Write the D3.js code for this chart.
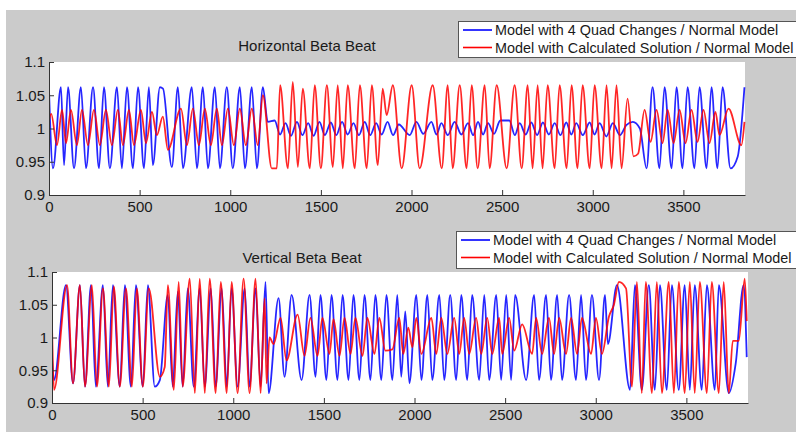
<!DOCTYPE html>
<html>
<head>
<meta charset="utf-8">
<script src="https://cdn.jsdelivr.net/npm/d3@7/dist/d3.min.js"></script>
<style>
  html, body { margin: 0; padding: 0; background: #ffffff; }
  svg { display: block; }
  text { font-family: Arial, "Liberation Sans", Helvetica, sans-serif; fill: #1a1a1a; }
</style>
</head>
<body>
<svg id="chart" width="796" height="435"></svg>
<script>
// ---------------- DATA ----------------
const xTicks = [0, 500, 1000, 1500, 2000, 2500, 3000, 3500];
const yTicks = [0.9, 0.95, 1, 1.05, 1.1];
const yTickLabels = ["0.9", "0.95", "1", "1.05", "1.1"];
const titles = ["Horizontal Beta Beat", "Vertical Beta Beat"];
const legendLabels = ["Model with 4 Quad Changes / Normal Model",
                      "Model with Calculated Solution / Normal Model"];
const seriesColors = ["#0000ff", "#ff0000"];

// Horizontal: blue = 4 quad changes, red = calculated solution  [position, ratio]
const horizontalBlue = [
  [0,1.058],[22,0.940],[66,1.062],[83,0.945],[105,1.062],[138,0.940],[176,1.062],[204,0.940],
  [243,1.062],[276,0.940],[303,1.062],[336,0.940],[375,1.062],[402,0.940],[430,1.062],[463,0.940],
  [491,1.062],[524,0.940],[551,1.062],[573,0.945],[612,1.062],[629,1.060],[678,0.942],[711,1.062],
  [739,0.940],[788,1.062],[816,0.940],[849,1.062],[877,0.940],[915,1.062],[943,0.940],[981,1.062],
  [1014,0.940],[1053,1.062],[1081,0.940],[1119,1.062],[1147,0.940],[1180,1.062],[1207,1.010],
  [1245,1.012],[1275,0.991],[1305,1.008],[1335,0.989],[1368,1.010],[1398,0.990],[1430,1.008],
  [1460,0.989],[1492,1.010],[1522,0.990],[1555,1.009],[1585,0.990],[1617,1.010],[1648,0.991],
  [1680,1.008],[1710,0.990],[1742,1.010],[1772,0.990],[1805,1.008],[1835,0.991],[1868,1.010],
  [1898,0.990],[1930,1.006],[1990,0.990],[2027,1.010],[2065,0.992],[2110,1.010],[2138,0.991],
  [2165,1.008],[2200,0.990],[2238,1.010],[2275,0.991],[2312,1.008],[2340,0.990],[2367,1.010],
  [2395,0.991],[2422,1.008],[2455,0.992],[2490,1.012],[2540,1.012],[2570,0.990],[2597,1.008],
  [2630,0.991],[2661,1.009],[2693,0.990],[2725,1.009],[2758,0.991],[2790,1.008],[2822,0.990],
  [2854,1.009],[2882,0.991],[2909,1.008],[2945,0.990],[2983,1.009],[3010,0.991],[3038,1.008],
  [3075,0.988],[3111,1.008],[3150,0.990],[3185,1.005],[3221,1.010],[3260,1.000],[3297,0.940],
  [3330,1.062],[3368,0.940],[3396,1.062],[3435,0.940],[3462,1.062],[3495,0.940],[3523,1.062],
  [3561,0.940],[3589,1.062],[3628,0.940],[3655,1.062],[3688,0.940],[3716,1.062],[3760,0.940],
  [3800,0.958],[3837,1.062]
];
const horizontalRed = [
  [0,1.012],[12,1.022],[44,0.975],[72,1.028],[94,0.978],[121,1.028],[154,0.975],[182,1.028],
  [215,0.975],[248,1.028],[281,0.975],[314,1.028],[347,0.975],[380,1.028],[408,0.975],[441,1.028],
  [469,0.975],[507,1.028],[535,0.978],[568,1.025],[595,0.990],[628,1.018],[656,0.968],[728,1.030],
  [761,0.975],[794,1.030],[827,0.975],[860,1.030],[893,0.975],[926,1.030],[954,0.975],[987,1.030],
  [1020,0.975],[1053,1.030],[1086,0.975],[1119,1.030],[1152,0.975],[1180,1.050],[1229,0.940],
  [1257,0.940],[1275,1.065],[1318,0.940],[1345,1.070],[1373,0.942],[1400,1.060],[1439,0.940],
  [1466,1.065],[1500,0.940],[1533,1.065],[1566,0.942],[1593,1.065],[1621,0.940],[1648,1.065],
  [1687,0.940],[1715,1.065],[1753,0.940],[1781,1.065],[1814,0.945],[1841,1.060],[1863,1.020],
  [1897,1.065],[1946,0.940],[2001,1.065],[2045,0.940],[2117,1.065],[2167,0.940],[2200,1.065],
  [2227,0.940],[2266,1.065],[2304,0.940],[2332,1.065],[2365,0.940],[2404,1.065],[2431,0.940],
  [2470,1.065],[2525,0.940],[2569,1.065],[2608,0.940],[2641,1.065],[2668,0.940],[2696,1.065],
  [2723,0.940],[2751,1.065],[2790,0.940],[2817,1.065],[2856,0.940],[2883,1.065],[2916,0.940],
  [2944,1.065],[2983,0.940],[3010,1.065],[3049,0.940],[3076,1.065],[3104,0.940],[3131,1.065],
  [3159,0.940],[3192,1.045],[3225,0.958],[3250,0.962],[3286,1.028],[3319,0.980],[3352,1.028],
  [3385,0.978],[3413,1.028],[3446,0.978],[3479,1.028],[3512,0.978],[3545,1.028],[3578,0.980],
  [3611,1.028],[3644,0.978],[3677,1.025],[3699,0.990],[3749,1.030],[3820,0.975],[3837,1.010]
];

// Vertical: blue = 4 quad changes, red = calculated solution  [position, ratio]
const verticalBlue = [
  [0,0.970],[11,0.935],[77,1.080],[116,0.930],[154,1.080],[182,0.925],[215,1.080],[242,0.925],
  [281,1.080],[308,0.925],[336,1.080],[374,0.925],[402,1.080],[435,0.925],[463,1.080],[501,0.925],
  [529,1.080],[567,0.925],[595,0.935],[639,1.065],[666,0.925],[694,1.070],[721,0.925],[749,1.075],
  [782,0.925],[815,1.075],[843,0.925],[876,1.075],[903,0.925],[936,1.075],[964,0.925],[991,1.075],
  [1024,0.925],[1063,1.075],[1090,0.925],[1123,1.075],[1151,0.925],[1178,1.085],[1195,0.915],
  [1250,1.060],[1283,0.940],[1322,1.065],[1377,0.935],[1421,1.065],[1454,0.940],[1481,1.065],
  [1514,0.935],[1542,1.065],[1575,0.935],[1603,1.065],[1636,0.935],[1663,1.065],[1696,0.935],
  [1724,1.065],[1757,0.935],[1784,1.065],[1817,0.935],[1845,1.065],[1878,0.935],[1905,1.065],
  [1927,0.940],[1949,1.040],[1972,0.930],[2010,1.065],[2038,0.935],[2071,1.065],[2098,0.935],
  [2137,1.065],[2164,0.935],[2197,1.065],[2230,0.935],[2258,1.065],[2291,0.935],[2318,1.065],
  [2357,0.935],[2385,1.065],[2412,0.935],[2451,1.065],[2478,0.935],[2506,1.065],[2533,0.935],
  [2555,1.065],[2616,0.935],[2660,1.065],[2687,0.935],[2726,1.065],[2753,0.935],[2787,1.065],
  [2814,0.935],[2853,1.065],[2891,0.935],[2919,1.065],[2946,0.935],[2979,1.065],[3018,0.935],
  [3051,1.065],[3067,0.990],[3117,1.080],[3189,0.920],[3216,1.080],[3254,0.920],[3293,1.080],
  [3326,0.920],[3354,1.080],[3392,0.920],[3420,1.080],[3458,0.920],[3491,1.080],[3519,0.920],
  [3546,1.080],[3585,0.920],[3613,1.080],[3657,0.920],[3679,1.080],[3734,0.915],[3772,0.960],
  [3816,1.080],[3833,0.970]
];
const verticalRed = [
  [0,1.020],[11,0.920],[83,1.080],[116,0.930],[154,1.080],[182,0.925],[220,1.080],[248,0.925],
  [281,1.075],[314,0.925],[341,1.078],[374,0.925],[408,1.075],[441,0.925],[468,1.075],[501,0.925],
  [534,1.075],[595,0.940],[622,0.955],[639,1.080],[672,0.920],[699,1.085],[721,0.925],[760,1.090],
  [788,0.915],[815,1.090],[843,0.915],[870,1.090],[903,0.915],[931,1.085],[964,0.915],[991,1.085],
  [1024,0.915],[1057,1.090],[1090,0.915],[1123,1.090],[1151,0.915],[1173,1.060],[1184,0.930],
  [1200,1.000],[1223,0.990],[1261,1.030],[1294,0.965],[1355,1.035],[1393,0.972],[1426,1.030],
  [1465,0.972],[1492,1.030],[1531,0.975],[1553,1.028],[1586,0.972],[1614,1.030],[1647,0.975],
  [1674,1.030],[1713,0.972],[1740,1.030],[1779,0.975],[1806,1.030],[1839,0.980],[1878,0.982],
  [1916,1.030],[1938,0.975],[1966,1.015],[1988,0.985],[2010,1.030],[2038,0.975],[2093,1.030],
  [2120,0.975],[2148,1.030],[2181,0.975],[2219,1.030],[2247,0.975],[2274,1.030],[2302,0.975],
  [2340,1.030],[2368,0.975],[2401,1.030],[2429,0.975],[2467,1.030],[2484,0.975],[2522,1.030],
  [2550,0.980],[2594,1.020],[2649,0.975],[2671,1.030],[2704,0.975],[2742,1.030],[2770,0.975],
  [2798,1.030],[2836,0.975],[2864,1.030],[2897,0.975],[2924,1.030],[2974,0.975],[3001,1.030],
  [3034,0.975],[3073,1.032],[3100,1.050],[3128,1.085],[3167,1.075],[3200,0.925],[3227,1.085],
  [3254,0.915],[3276,1.085],[3310,0.915],[3337,1.085],[3365,0.915],[3403,1.085],[3431,0.915],
  [3458,1.085],[3491,0.915],[3519,1.085],[3546,0.915],[3574,1.085],[3613,0.915],[3640,1.085],
  [3679,0.915],[3706,1.085],[3734,0.915],[3756,0.995],[3789,0.995],[3822,1.090],[3833,1.025]
];
const xDomain = [0, 3840];
const yDomain = [0.9, 1.1];

// ---------------- DRAW ----------------
const svg = d3.select("#chart");
svg.append("rect").attr("x", 6).attr("y", 10).attr("width", 790).attr("height", 422).attr("fill", "#cbcbcb");

const panels = [
  { title: titles[0], series: [horizontalBlue, horizontalRed],
    left: 49, right: 745, top: 62, bottom: 195, titleX: 307, titleY: 51,
    legend: { x: 458, y: 21, h: 36 } },
  { title: titles[1], series: [verticalBlue, verticalRed],
    left: 52, right: 748, top: 272, bottom: 403, titleX: 302, titleY: 263,
    legend: { x: 456, y: 231, h: 37 } }
];

panels.forEach((p, pi) => {
  const x = d3.scaleLinear().domain(xDomain).range([p.left, p.right]);
  const y = d3.scaleLinear().domain(yDomain).range([p.bottom, p.top]);
  const g = svg.append("g");

  g.append("rect").attr("x", p.left).attr("y", p.top)
    .attr("width", p.right - p.left).attr("height", p.bottom - p.top).attr("fill", "#ffffff");

  const clipId = "clip" + pi;
  svg.append("clipPath").attr("id", clipId).append("rect")
    .attr("x", p.left).attr("y", p.top - 2).attr("width", p.right - p.left + 1).attr("height", p.bottom - p.top + 4);

  const line = d3.line().x(d => x(d[0])).y(d => y(d[1])).curve(d3.curveMonotoneX);
  p.series.forEach((s, si) => {
    g.append("path").datum(s)
      .attr("clip-path", `url(#${clipId})`)
      .attr("d", line)
      .attr("fill", "none")
      .attr("stroke", seriesColors[si])
      .attr("stroke-width", 1.8)
      .attr("stroke-opacity", 0.85)
      .attr("stroke-linejoin", "round");
  });

  const xAxis = d3.axisBottom(x).tickValues(xTicks).tickSizeInner(-5).tickSizeOuter(0).tickPadding(8)
    .tickFormat(d3.format("d"));
  const gx = g.append("g").attr("transform", `translate(0,${p.bottom})`).call(xAxis);
  const yAxis = d3.axisLeft(y).tickValues(yTicks).tickSizeInner(-5).tickSizeOuter(0).tickPadding(9)
    .tickFormat((d, i) => yTickLabels[i]);
  const gy = g.append("g").attr("transform", `translate(${p.left},0)`).call(yAxis);
  [gx, gy].forEach(a => {
    a.select(".domain").attr("stroke", "#333").attr("stroke-width", 1);
    a.selectAll(".tick line").attr("stroke", "#333");
    a.selectAll(".tick text").attr("font-size", "15px")
      .attr("font-family", "Arial, 'Liberation Sans', sans-serif").attr("fill", "#1a1a1a");
  });
  gx.selectAll(".tick text").attr("dy", "0.6em");
  gy.selectAll(".tick text").attr("dx", "5px");

  g.append("text").attr("x", p.titleX).attr("y", p.titleY).attr("text-anchor", "middle")
    .attr("font-size", "15px").text(p.title);

  const L = p.legend;
  const lg = g.append("g");
  lg.append("rect").attr("x", L.x + 0.5).attr("y", L.y + 0.5).attr("width", 360).attr("height", L.h)
    .attr("fill", "#ffffff").attr("stroke", "#555").attr("stroke-width", 1);
  legendLabels.forEach((lab, i) => {
    const cy = L.y + 9 + i * 17.5;
    lg.append("line").attr("x1", L.x + 5).attr("x2", L.x + 34).attr("y1", cy).attr("y2", cy)
      .attr("stroke", seriesColors[i]).attr("stroke-width", 1.6);
    lg.append("text").attr("x", L.x + 37).attr("y", cy + 5).attr("font-size", "14.4px").text(lab);
  });
});
</script>
</body>
</html>
